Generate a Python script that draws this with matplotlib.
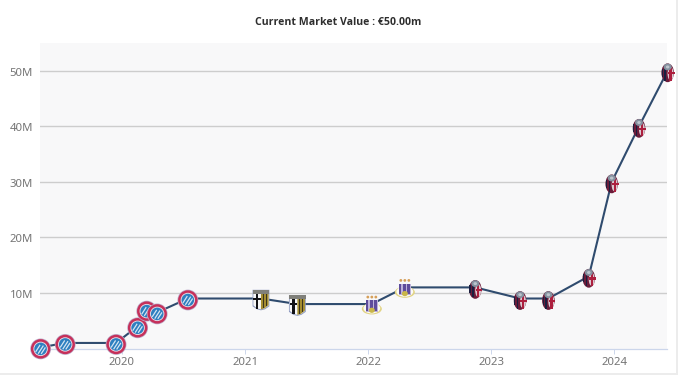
import pandas as pd
import matplotlib
matplotlib.use('Agg')
import matplotlib.dates as mdates
from matplotlib import pyplot as plt
from matplotlib.collections import PathCollection
from matplotlib.patches import Rectangle
from matplotlib.path import Path
from matplotlib.ticker import FuncFormatter
from matplotlib.transforms import Affine2D, IdentityTransform, ScaledTranslation

# Market value history, one entry per valuation
dates = ['2019-05-05', '2019-07-17', '2019-12-15', '2020-02-17', '2020-03-15', '2020-04-15',
         '2020-07-15', '2021-02-17', '2021-06-05', '2022-01-12', '2022-04-20', '2022-11-15',
         '2023-03-28', '2023-06-20', '2023-10-18', '2023-12-25', '2024-03-15', '2024-06-08']
values = [0.2, 1, 1, 4, 7, 6.5, 9, 9, 8, 8, 11, 11, 9, 9, 13, 30, 40, 50]
clubs = ['bayern'] * 7 + ['parma'] * 2 + ['anderlecht'] * 2 + ['bologna'] * 7
year_ticks = [2020, 2021, 2022, 2023, 2024]
value_ticks = [10, 20, 30, 40, 50]
title = 'Current Market Value : €50.00m'

W, H = 678, 375
plt.rcParams['font.family'] = ['Noto Sans', 'DejaVu Sans']
when = pd.to_datetime(dates)

fig = plt.figure(figsize=(W / 100, H / 100), dpi=100)
ax = fig.add_axes([40 / W, 1 - 348.5 / H, 627 / W, 305.5 / H], facecolor='#f8f8f9')


# Axis limits so that the plot area starts and ends like the reference
def year_date(year):
    return mdates.date2num(pd.Timestamp(year=int(year), month=1, day=1)) + (year % 1) * 365.25


ax.set_xlim(year_date(2019.3345), year_date(2024.43))
ax.set_ylim(0, 55)

ax.plot(when, values, color='#2f4b6e', lw=1.5, solid_joinstyle='round', zorder=3, clip_on=False)

# Format plot
for side in ['top', 'right', 'left']:
    ax.spines[side].set_visible(False)
ax.spines['bottom'].set_color('#ccd6eb')
ax.spines['bottom'].set_linewidth(0.9)
ax.set_yticks(value_ticks)
ax.yaxis.set_major_formatter(FuncFormatter(lambda v, pos: '%dM' % v))
ax.set_xticks([mdates.date2num(pd.Timestamp(year=y, month=1, day=1)) for y in year_ticks])
ax.set_xticklabels(year_ticks)
ax.grid(axis='y', color='#cdcdcd', lw=1.0, zorder=1)
ax.set_axisbelow(True)
ax.tick_params(axis='y', length=0, pad=5, labelsize=8.2, labelcolor='#757575')
ax.tick_params(axis='x', length=3.5, width=0.7, color='#ccd6eb', pad=2.8, labelsize=8.2, labelcolor='#757575')

# Value labels sit one pixel under their grid lines
nudge = ScaledTranslation(0, -1 / 100, fig.dpi_scale_trans)
for label in ax.get_yticklabels():
    label.set_transform(label.get_transform() + nudge)

fig.text(338 / W, 1 - 22.5 / H, title, ha='center', va='center', fontsize=7.6, fontweight='bold', color='#2e2e2e',
         family=['Open Sans', 'DejaVu Sans'])

# Thin page border on the right and at the bottom
fig.add_artist(Rectangle((676 / W, 0), 2 / W, 1, color='#ececec', lw=0))
fig.add_artist(Rectangle((0, 0), 1, 2.5 / H, color='#ececec', lw=0))


# Crest shapes in pixels, relative to the data point
def oval(cx, cy, rx, ry):
    return Path.unit_circle().transformed(Affine2D().scale(rx, ry).translate(cx, cy))


def box(x0, y0, x1, y1):
    return Path([(x0, y0), (x1, y0), (x1, y1), (x0, y1), (x0, y0)], closed=True)


def shield(x0, x1, top, bottom):
    cx = (x0 + x1) / 2
    return Path([(x0, top), (x1, top), (x1, bottom + 4), (cx + 4, bottom + 1), (cx, bottom),
                 (cx - 4, bottom + 1), (x0, bottom + 4), (x0, top)], closed=True)


def bar(x0, y0, x1, y1, width):
    dx = width / 2
    return Path([(x0 - dx, y0 + dx), (x0 + dx, y0 - dx), (x1 + dx, y1 - dx), (x1 - dx, y1 + dx), (x0 - dx, y0 + dx)],
                closed=True)


bayern = [(oval(0, -1.5, 10.4, 10.4), '#bdaecb'), (oval(0, -1.5, 9.7, 9.7), '#c6305a'),
          (oval(0, -1.5, 7.2, 7.2), '#e9dfe7'), (oval(0, -1.5, 6.3, 6.3), '#2e7fc0'),
          (bar(-5, -4.5, -0.5, 2.5, 0.9), '#d5e6f3'), (bar(-2.5, -6.3, 2.8, 1.8, 0.9), '#d5e6f3'),
          (bar(0.5, -6.5, 4.8, 0, 0.9), '#d5e6f3')]

parma = [(shield(-8.4, 8.4, 8.7, -11.8), '#8e9ac0'), (shield(-7.6, 7.6, 8, -10.8), '#f7f7f7'),
         (Path([(0, 5), (7.6, 5), (7.6, -6.5), (3.6, -9.8), (0, -10.8), (0, 5)], closed=True), '#a48d31'),
         (box(1.9, 5, 3, -9.5), '#3a3420'), (box(4.6, 5, 5.6, -7.5), '#3a3420'),
         (box(-5, 5, -2.6, -10), '#121216'), (box(-7.6, 1, 0, -1.2), '#121216'),
         (box(-8.4, 8.7, 8.4, 5), '#80807a')]

anderlecht = [(oval(0, -4.8, 10, 5.6), '#e2d384'), (oval(0, -4.2, 8.4, 5.2), '#fbfbf6'),
              (box(-6.2, 3.7, 6.2, -7.5), '#bdb2da'), (box(-5.8, 3.7, -3.4, -6.5), '#5f4c9c'),
              (box(-1.6, 3.7, 0.8, -6.5), '#5f4c9c'), (box(2.6, 3.7, 5, -6.5), '#5f4c9c'),
              (oval(0, -6.2, 3, 2.6), '#c9b648'), (oval(-4, 7, 1.4, 1.4), '#d6a05a'),
              (oval(0, 7, 1.4, 1.4), '#d6a05a'), (oval(4, 7, 1.4, 1.4), '#d6a05a')]

bologna = [(oval(0, -2, 6.3, 9.4), '#6b1c3a'), (box(-3.2, 3.5, -1.6, -10), '#1b1f40'), (box(-5.8, 2, -4.6, -6), '#1b1f40'),
           (oval(2.9, -3, 3, 6.6), '#dcc8cf'), (box(1.8, 3, 4.2, -10), '#ad1f3e'), (box(0.4, -1.2, 6.9, -3.6), '#ad1f3e'),
           (oval(0, 3.8, 4, 3.4), '#84919f'), (oval(0, 3.8, 1.8, 1.5), '#bcc4cc')]

crests = {'bayern': bayern, 'parma': parma, 'anderlecht': anderlecht, 'bologna': bologna}

# Stack the layers of each crest on its club's data points
for club, layers in crests.items():
    points = [(mdates.date2num(d), v) for d, v, c in zip(when, values, clubs) if c == club]
    for point in points:
        for path, colour in layers:
            crest = PathCollection([path], facecolors=colour, edgecolors='none', offsets=[point],
                                   offset_transform=ax.transData, transform=IdentityTransform(),
                                   zorder=4, clip_on=False)
            ax.add_collection(crest, autolim=False)

fig.savefig('out.png', dpi=100)
